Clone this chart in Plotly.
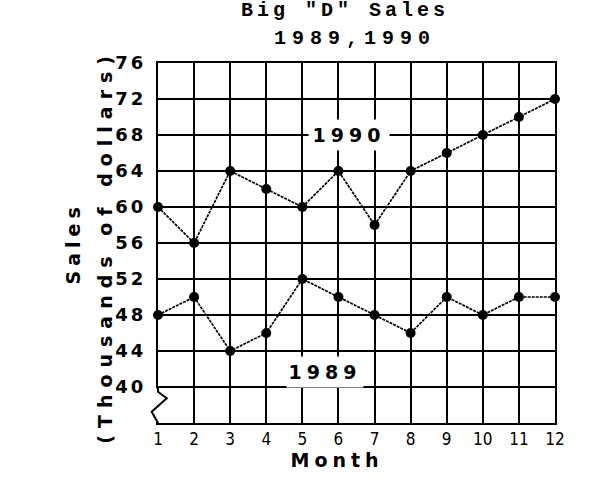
import plotly.graph_objects as go

# data
months = list(range(1, 13))
sales_1990 = [60, 56, 64, 62, 60, 64, 58, 64, 66, 68, 70, 72]
sales_1989 = [48, 50, 44, 46, 52, 50, 48, 46, 50, 48, 50, 50]
y_ticks = list(range(40, 77, 4))

bold_sans = dict(family="DejaVu Sans", size=19, color="black", weight="bold")

fig = go.Figure()
for name, vals in [("1990", sales_1990), ("1989", sales_1989)]:
    fig.add_trace(go.Scatter(
        x=months, y=vals, name=name, mode="lines+markers",
        line=dict(color="black", width=1.7, dash="3px,1px"),
        marker=dict(color="black", size=10),
        cliponaxis=False, showlegend=False,
    ))

# series labels on a white box that breaks the grid
fig.add_annotation(x=6.29, y=68, text="1990", showarrow=False, font=bold_sans,
                   bgcolor="white", width=78, height=28)
fig.add_annotation(x=5.63, y=41.67, text="1989", showarrow=False, font=bold_sans,
                   bgcolor="white", width=74, height=28)

# titles
title_font = dict(family="Liberation Mono", size=20, color="black", weight="bold")
fig.add_annotation(xref="paper", yref="paper", x=0.47, y=1.147, text='Big "D" Sales',
                   showarrow=False, font=title_font, yanchor="middle")
fig.add_annotation(xref="paper", yref="paper", x=0.496, y=1.069, text="1989,1990",
                   showarrow=False, font=title_font, yanchor="middle")
fig.add_annotation(xref="paper", yref="paper", x=0.451, y=-0.103, text="Month",
                   showarrow=False, font=bold_sans, yanchor="middle")
fig.add_annotation(xref="paper", yref="paper", x=-0.247, y=0.5, text="Sales",
                   showarrow=False, font=bold_sans, textangle=-90)
fig.add_annotation(xref="paper", yref="paper", x=-0.166, y=0.49,
                   text="(Thousands of dollars)", showarrow=False, font=bold_sans,
                   textangle=-90)

# axis break on the left edge below 40
fig.add_shape(type="rect", xref="paper", yref="paper", x0=-0.02, x1=0.005,
              y0=0.004, y1=0.096, fillcolor="white", line_width=0, layer="above")
fig.add_shape(type="path", xref="paper", yref="paper",
              path="M 0 0.1 L 0 0.087 L 0.022 0.0686 L -0.016 0.0314 L 0 0",
              line=dict(color="black", width=2), layer="above")

fig.update_xaxes(range=[1, 12], tickvals=months, showgrid=True, gridcolor="black",
                 gridwidth=2, showline=True, mirror=True, linecolor="black",
                 linewidth=2, zeroline=False, ticks="",
                 tickfont=dict(family="Liberation Sans Narrow, DejaVu Sans Condensed, Liberation Sans",
                               size=17, color="black"))
fig.update_yaxes(range=[36, 76], tickvals=y_ticks, showgrid=True, gridcolor="black",
                 gridwidth=2, showline=True, mirror=True, linecolor="black",
                 linewidth=2, zeroline=False, ticks="", ticklabelstandoff=6,
                 tickfont=dict(family="DejaVu Sans", size=18, color="black",
                               weight="bold"))

fig.update_layout(width=597, height=485, margin=dict(l=158, r=42, t=63, b=62),
                  plot_bgcolor="white", paper_bgcolor="white")

# no page margin, and the widely spaced lettering of the original
page_js = """
document.body.style.margin = '0';
var gd = document.getElementById('{plot_id}');
var gaps = {'Big "D" Sales': '4px', '1989,1990': '6px', '(Thousands of dollars)': '7px'};
gd.querySelectorAll('.annotation-text').forEach(function(t){
    t.style.letterSpacing = gaps[t.textContent] || '5px';
});
gd.querySelectorAll('.ytick text').forEach(function(t){ t.style.letterSpacing = '3px'; });
"""
fig.write_html("out.html", post_script=page_js, config={"displayModeBar": False})
